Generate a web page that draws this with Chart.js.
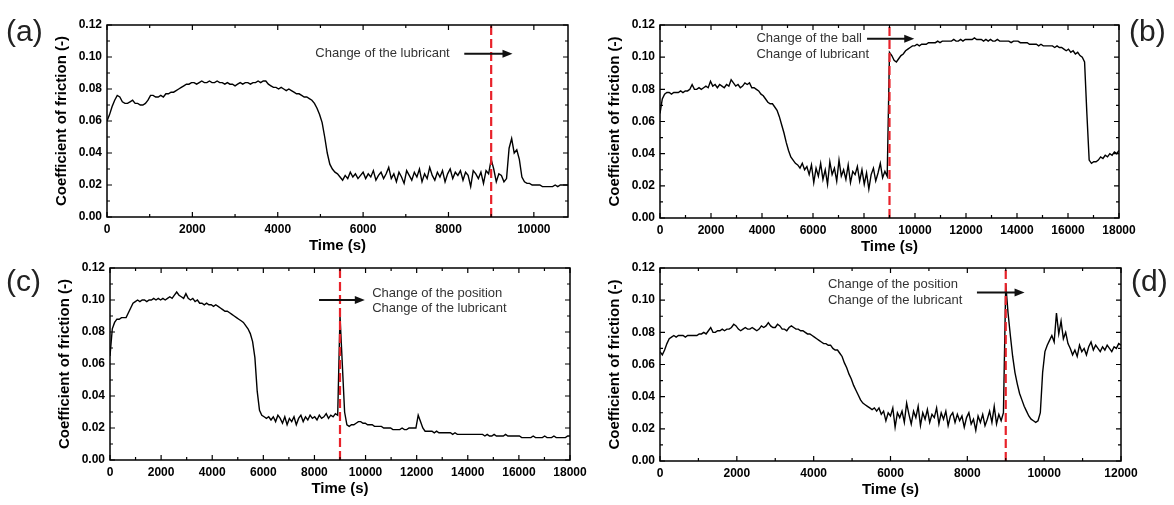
<!DOCTYPE html>
<html>
<head>
<meta charset="utf-8">
<script src="https://cdn.jsdelivr.net/npm/chart.js"></script>
<style>
body { margin: 0; background: #fff; }
#wrap { position: relative; width: 1174px; height: 505px; overflow: hidden; }
canvas { position: absolute; }
</style>
</head>
<body>
<div id="wrap">
<canvas id="chartA" width="587" height="262" style="left:0;top:0"></canvas>
<canvas id="chartB" width="587" height="262" style="left:587px;top:0"></canvas>
<canvas id="chartC" width="587" height="255" style="left:0;top:250px"></canvas>
<canvas id="chartD" width="587" height="255" style="left:587px;top:250px"></canvas>
</div>
<script>
// coefficient of friction, one value every stepX seconds
var stepA = 60;
var cofA = [
0.060,0.064,0.069,0.073,0.076,0.075,0.072,0.071,0.071,0.072,
0.073,0.071,0.071,0.070,0.070,0.071,0.073,0.076,0.076,0.075,
0.075,0.076,0.075,0.077,0.077,0.078,0.078,0.079,0.080,0.081,
0.082,0.083,0.083,0.084,0.084,0.083,0.084,0.085,0.084,0.084,
0.085,0.084,0.084,0.085,0.084,0.084,0.083,0.084,0.083,0.083,
0.082,0.083,0.084,0.083,0.084,0.084,0.083,0.084,0.084,0.085,
0.084,0.085,0.085,0.083,0.082,0.081,0.081,0.080,0.081,0.080,
0.079,0.080,0.079,0.078,0.077,0.077,0.076,0.075,0.075,0.074,
0.073,0.071,0.068,0.064,0.059,0.050,0.040,0.033,0.030,0.028,
0.027,0.025,0.023,0.026,0.024,0.028,0.025,0.027,0.024,0.026,
0.028,0.024,0.027,0.025,0.029,0.023,0.026,0.028,0.024,0.027,
0.031,0.024,0.027,0.022,0.028,0.025,0.021,0.029,0.026,0.023,
0.028,0.025,0.030,0.022,0.027,0.024,0.031,0.026,0.023,0.028,
0.025,0.029,0.022,0.027,0.030,0.024,0.028,0.026,0.029,0.023,
0.028,0.026,0.019,0.029,0.027,0.024,0.028,0.021,0.029,0.027,
0.036,0.030,0.022,0.027,0.026,0.022,0.024,0.043,0.049,0.040,
0.042,0.036,0.025,0.022,0.021,0.021,0.020,0.020,0.020,0.020,
0.019,0.019,0.019,0.019,0.019,0.020,0.019,0.020,0.020,0.020,
0.020];

var stepB = 90;
var cofB = [
0.065,0.074,0.077,0.078,0.078,0.077,0.078,0.078,0.078,0.079,
0.078,0.079,0.079,0.080,0.083,0.080,0.080,0.081,0.080,0.081,
0.082,0.081,0.085,0.082,0.083,0.081,0.083,0.082,0.081,0.083,
0.082,0.086,0.084,0.082,0.083,0.081,0.082,0.084,0.083,0.084,
0.081,0.081,0.080,0.079,0.077,0.076,0.074,0.072,0.071,0.071,
0.069,0.067,0.063,0.058,0.053,0.047,0.042,0.038,0.036,0.034,
0.033,0.031,0.034,0.030,0.032,0.027,0.033,0.022,0.031,0.026,
0.034,0.024,0.030,0.021,0.035,0.027,0.031,0.023,0.036,0.026,
0.030,0.024,0.033,0.022,0.029,0.027,0.032,0.023,0.030,0.021,
0.028,0.018,0.027,0.031,0.023,0.028,0.034,0.025,0.029,0.026,
0.103,0.101,0.098,0.097,0.099,0.101,0.102,0.104,0.105,0.106,
0.107,0.107,0.108,0.107,0.108,0.108,0.108,0.109,0.109,0.109,
0.109,0.110,0.109,0.110,0.110,0.110,0.110,0.110,0.111,0.110,
0.110,0.111,0.110,0.111,0.111,0.111,0.111,0.112,0.111,0.111,
0.111,0.110,0.111,0.110,0.111,0.110,0.110,0.111,0.110,0.110,
0.110,0.110,0.110,0.109,0.110,0.110,0.110,0.109,0.109,0.109,
0.109,0.108,0.108,0.108,0.108,0.107,0.108,0.107,0.107,0.107,
0.107,0.107,0.106,0.107,0.106,0.106,0.105,0.104,0.105,0.103,
0.104,0.102,0.103,0.101,0.100,0.097,0.065,0.036,0.034,0.035,
0.035,0.036,0.038,0.037,0.039,0.038,0.040,0.039,0.041,0.040,
0.042];

var stepC = 90;
var cofC = [
0.065,0.082,0.086,0.088,0.088,0.089,0.089,0.089,0.092,0.095,
0.098,0.099,0.100,0.099,0.100,0.100,0.099,0.100,0.100,0.101,
0.100,0.101,0.100,0.101,0.100,0.101,0.102,0.101,0.103,0.105,
0.103,0.102,0.101,0.104,0.101,0.100,0.101,0.099,0.100,0.098,
0.098,0.097,0.098,0.097,0.097,0.096,0.097,0.096,0.095,0.094,
0.093,0.093,0.092,0.091,0.090,0.089,0.088,0.087,0.086,0.084,
0.082,0.079,0.074,0.064,0.043,0.031,0.028,0.027,0.026,0.027,
0.025,0.027,0.024,0.028,0.026,0.023,0.027,0.022,0.026,0.024,
0.027,0.022,0.026,0.028,0.024,0.027,0.025,0.028,0.026,0.027,
0.025,0.028,0.026,0.027,0.029,0.026,0.028,0.027,0.029,0.028,
0.090,0.060,0.030,0.022,0.021,0.022,0.022,0.023,0.024,0.024,
0.023,0.023,0.022,0.022,0.022,0.021,0.021,0.021,0.021,0.020,
0.020,0.020,0.020,0.019,0.019,0.019,0.019,0.020,0.019,0.019,
0.020,0.020,0.020,0.020,0.028,0.024,0.020,0.018,0.018,0.018,
0.018,0.017,0.018,0.017,0.017,0.017,0.017,0.017,0.017,0.016,
0.017,0.016,0.016,0.016,0.016,0.016,0.016,0.016,0.016,0.016,
0.016,0.016,0.016,0.015,0.016,0.015,0.015,0.016,0.015,0.015,
0.015,0.015,0.016,0.015,0.015,0.015,0.015,0.015,0.015,0.014,
0.014,0.014,0.014,0.014,0.015,0.014,0.014,0.014,0.014,0.015,
0.014,0.014,0.014,0.015,0.014,0.014,0.014,0.014,0.014,0.015,
0.015];

var stepD = 60;
var cofD = [
0.068,0.066,0.069,0.073,0.076,0.077,0.078,0.077,0.078,0.078,
0.078,0.077,0.078,0.078,0.078,0.078,0.078,0.079,0.079,0.080,
0.079,0.081,0.083,0.080,0.080,0.081,0.081,0.082,0.081,0.082,
0.082,0.083,0.085,0.084,0.082,0.081,0.082,0.083,0.082,0.082,
0.083,0.082,0.081,0.082,0.084,0.083,0.084,0.086,0.084,0.083,
0.083,0.085,0.084,0.082,0.082,0.081,0.083,0.084,0.083,0.082,
0.082,0.081,0.081,0.080,0.079,0.079,0.078,0.077,0.076,0.075,
0.074,0.073,0.073,0.072,0.072,0.070,0.069,0.069,0.067,0.065,
0.061,0.058,0.054,0.051,0.047,0.044,0.041,0.038,0.036,0.035,
0.034,0.033,0.032,0.033,0.031,0.033,0.029,0.031,0.025,0.030,
0.028,0.033,0.021,0.030,0.027,0.031,0.024,0.036,0.029,0.023,
0.031,0.027,0.034,0.022,0.030,0.026,0.032,0.024,0.029,0.027,
0.033,0.023,0.030,0.026,0.031,0.022,0.028,0.030,0.024,0.029,
0.025,0.028,0.021,0.027,0.030,0.023,0.026,0.019,0.028,0.024,
0.029,0.022,0.026,0.031,0.024,0.034,0.023,0.029,0.025,0.030,
0.110,0.092,0.078,0.065,0.055,0.048,0.042,0.038,0.034,0.031,
0.028,0.026,0.025,0.024,0.025,0.030,0.055,0.068,0.072,0.075,
0.078,0.074,0.092,0.079,0.087,0.076,0.080,0.073,0.070,0.066,
0.069,0.065,0.072,0.068,0.070,0.066,0.071,0.074,0.069,0.072,
0.070,0.068,0.071,0.069,0.072,0.070,0.068,0.071,0.070,0.073,
0.072];

// tick labels
var xTicksA = [0, 2000, 4000, 6000, 8000, 10000];
var xTicksB = [0, 2000, 4000, 6000, 8000, 10000, 12000, 14000, 16000, 18000];
var xTicksC = [0, 2000, 4000, 6000, 8000, 10000, 12000, 14000, 16000, 18000];
var xTicksD = [0, 2000, 4000, 6000, 8000, 10000, 12000];
var yTicks = [0, 0.02, 0.04, 0.06, 0.08, 0.10, 0.12];

// time of the change (red dashed line)
var changeTime = 9000;

var tickFont = { family: 'Liberation Sans, Arial, sans-serif', weight: 'bold', size: 12 };
var titleFont = { family: 'Liberation Sans, Arial, sans-serif', weight: 'bold', size: 15 };

function toPoints(values, step) {
    var pts = [];
    for (var i = 0; i < values.length; i++) {
        pts.push({ x: i * step, y: values[i] });
    }
    return pts;
}

// frame with inward ticks on all four sides, panel letter and notes
const framePlugin = {
    id: 'frame',
    afterDraw(chart, args, opts) {
        const ctx = chart.ctx;
        const a = chart.chartArea;
        const xs = chart.scales.x;
        const ys = chart.scales.y;
        ctx.save();
        ctx.strokeStyle = '#000';
        ctx.lineWidth = 1.5;
        ctx.strokeRect(a.left, a.top, a.right - a.left, a.bottom - a.top);
        ctx.lineWidth = 1.2;
        ctx.beginPath();
        var half = 1000;
        for (var i = 0; i * half <= xs.max; i++) {
            var px = xs.getPixelForValue(i * half);
            var len = (i % 2 == 0) ? 5 : 3;
            ctx.moveTo(px, a.bottom); ctx.lineTo(px, a.bottom - len);
            ctx.moveTo(px, a.top); ctx.lineTo(px, a.top + len);
        }
        for (var j = 0; j <= 12; j++) {
            var py = ys.getPixelForValue(j * 0.01);
            var len2 = (j % 2 == 0) ? 5 : 3;
            ctx.moveTo(a.left, py); ctx.lineTo(a.left + len2, py);
            ctx.moveTo(a.right, py); ctx.lineTo(a.right - len2, py);
        }
        ctx.stroke();

        // notes
        ctx.fillStyle = '#333';
        ctx.font = '13px Liberation Sans, Arial, sans-serif';
        ctx.textBaseline = 'middle';
        ctx.textAlign = 'left';
        opts.notes.forEach(function(n) {
            ctx.fillText(n[0], xs.getPixelForValue(n[1]), ys.getPixelForValue(n[2]));
        });
        var ar = opts.arrow;
        var x1 = xs.getPixelForValue(ar[0]);
        var x2 = xs.getPixelForValue(ar[1]);
        var ay = ys.getPixelForValue(ar[2]);
        ctx.strokeStyle = '#111';
        ctx.lineWidth = 2;
        ctx.beginPath();
        ctx.moveTo(x1, ay); ctx.lineTo(x2 - 8, ay);
        ctx.stroke();
        ctx.fillStyle = '#111';
        ctx.beginPath();
        ctx.moveTo(x2, ay); ctx.lineTo(x2 - 10, ay - 4); ctx.lineTo(x2 - 10, ay + 4);
        ctx.closePath();
        ctx.fill();

        // panel letter
        ctx.fillStyle = '#222';
        ctx.font = '30px Liberation Sans, Arial, sans-serif';
        ctx.fillText(opts.letter[0], opts.letter[1], opts.letter[2]);
        ctx.restore();
    }
};

function makePanel(id, values, step, xMax, xTicks, pad, frameOpts) {
    return new Chart(document.getElementById(id), {
        type: 'line',
        data: {
            datasets: [{
                data: [{ x: changeTime, y: 0 }, { x: changeTime, y: 0.12 }],
                borderColor: '#e8222a',
                borderWidth: 2.2,
                borderDash: [9, 4],
                pointRadius: 0
            },
            {
                data: toPoints(values, step),
                borderColor: '#000',
                borderWidth: 1.4,
                pointRadius: 0,
                tension: 0
            }]
        },
        options: {
            responsive: false,
            animation: false,
            layout: { padding: pad },
            plugins: {
                legend: { display: false },
                tooltip: { enabled: false },
                frame: frameOpts
            },
            scales: {
                x: {
                    type: 'linear', min: 0, max: xMax,
                    grid: { display: false, drawTicks: false },
                    border: { display: false },
                    afterBuildTicks: function(s) { s.ticks = xTicks.map(function(v) { return { value: v }; }); },
                    ticks: { autoSkip: false, maxRotation: 0, padding: 5, color: '#000', font: tickFont,
                        callback: function(v) { return String(v); } },
                    title: { display: true, text: 'Time (s)', color: '#000', font: titleFont, padding: { top: 4, bottom: 4 } },
                    afterFit: function(s) { s.height = 42; s.paddingLeft = 0; s.paddingRight = 0; }
                },
                y: {
                    min: 0, max: 0.12,
                    grid: { display: false, drawTicks: false },
                    border: { display: false },
                    afterBuildTicks: function(s) { s.ticks = yTicks.map(function(v) { return { value: v }; }); },
                    ticks: { padding: 5, color: '#000', font: tickFont,
                        callback: function(v) { return v.toFixed(2); } },
                    title: { display: true, text: 'Coefficient of friction (-)', color: '#000', font: titleFont, padding: { top: 4, bottom: 4 } },
                    afterFit: function(s) { s.width = 58; }
                }
            }
        },
        plugins: [framePlugin]
    });
}

makePanel('chartA', cofA, stepA, 10800, xTicksA, { left: 49, top: 25, right: 19, bottom: 3 }, {
    letter: ['(a)', 6, 33],
    notes: [['Change of the lubricant', 4880, 0.102]],
    arrow: [8370, 9500, 0.102]
});
makePanel('chartB', cofB, stepB, 18000, xTicksB, { left: 15, top: 25, right: 55, bottom: 2 }, {
    letter: ['(b)', 542, 33],
    notes: [['Change of the ball', 3780, 0.1114], ['Change of lubricant', 3780, 0.1017]],
    arrow: [8120, 9970, 0.1114]
});
makePanel('chartC', cofC, stepC, 18000, xTicksC, { left: 52, top: 18, right: 17, bottom: 3 }, {
    letter: ['(c)', 6, 33],
    notes: [['Change of the position', 10260, 0.104], ['Change of the lubricant', 10260, 0.095]],
    arrow: [8180, 9970, 0.100]
});
makePanel('chartD', cofD, stepD, 12000, xTicksD, { left: 15, top: 18, right: 53, bottom: 2 }, {
    letter: ['(d)', 544, 33],
    notes: [['Change of the position', 4370, 0.110], ['Change of the lubricant', 4370, 0.100]],
    arrow: [8250, 9490, 0.1047]
});
</script>
</body>
</html>
